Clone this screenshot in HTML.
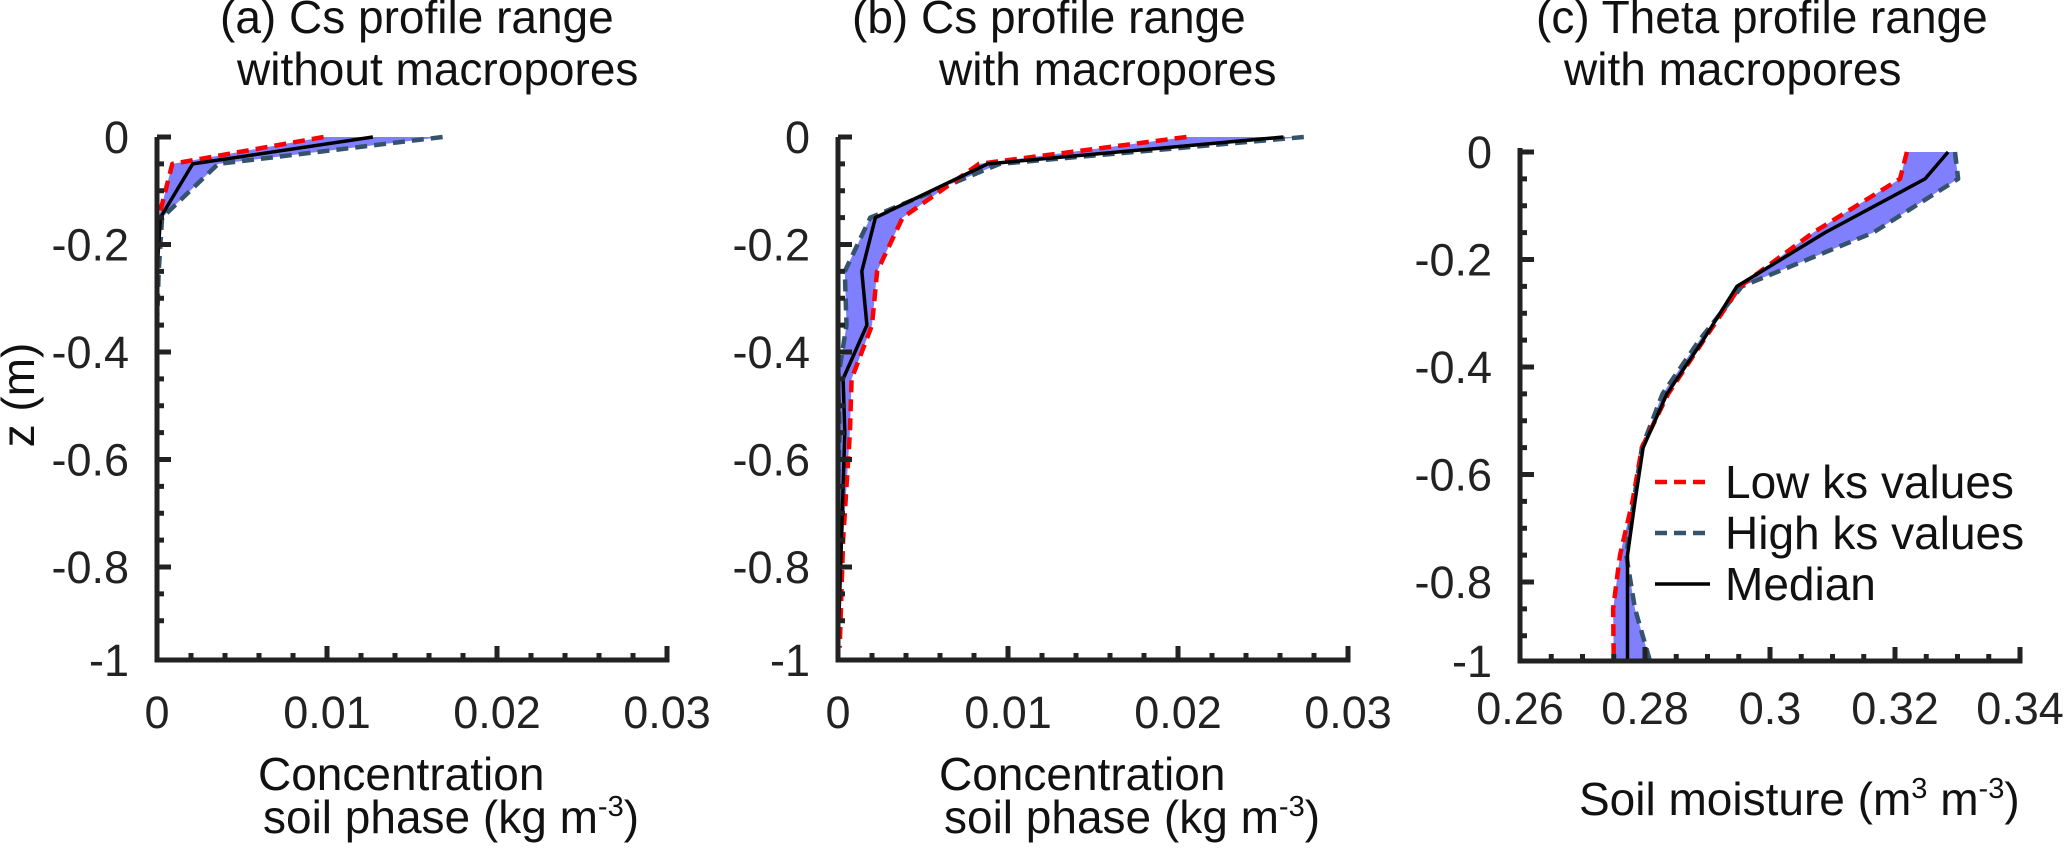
<!DOCTYPE html>
<html><head><meta charset="utf-8">
<style>
html,body{margin:0;padding:0;background:#fff;}
svg{display:block;font-family:"Liberation Sans",Arial,sans-serif;}
</style></head>
<body>
<svg id="chart" width="2067" height="852" viewBox="0 0 2067 852" xmlns="http://www.w3.org/2000/svg">
<g fill="#111" font-size="46">
<text x="220" y="33">(a) Cs profile range</text>
<text x="237" y="85">without macropores</text>
<text x="852" y="33">(b) Cs profile range</text>
<text x="939" y="85">with macropores</text>
<text x="1536" y="33">(c) Theta profile range</text>
<text x="1564" y="85">with macropores</text>
<text transform="translate(34,395) rotate(-90)" text-anchor="middle">z (m)</text>
<text x="258" y="790">Concentration</text>
<text x="263" y="833">soil phase (kg m<tspan font-size="29" dy="-17">-3</tspan><tspan dy="17">)</tspan></text>
<text x="939" y="790">Concentration</text>
<text x="944" y="833">soil phase (kg m<tspan font-size="29" dy="-17">-3</tspan><tspan dy="17">)</tspan></text>
<text x="1579" y="815">Soil moisture (m<tspan font-size="29" dy="-17">3</tspan><tspan dy="17"> m</tspan><tspan font-size="29" dy="-17">-3</tspan><tspan dy="17">)</tspan></text>
</g>
<g id="plots"></g>
<g font-size="46" fill="#111">
<line x1="1655" y1="482" x2="1705" y2="482" stroke="#ff0000" stroke-width="4.5" stroke-dasharray="12,7"/>
<text x="1725" y="498">Low ks values</text>
<line x1="1655" y1="533" x2="1705" y2="533" stroke="#35536b" stroke-width="4.5" stroke-dasharray="12,7"/>
<text x="1725" y="549">High ks values</text>
<line x1="1655" y1="584" x2="1710" y2="584" stroke="#000" stroke-width="3.5"/>
<text x="1725" y="600">Median</text>
</g>
</svg>
<script>
const depths = [0,-0.05,-0.15,-0.25,-0.35,-0.45,-0.55,-0.65,-0.75,-0.85,-0.95];
const aLow  = [0.0098,0.0009,0.0001,0,0,0,0,0,0,0,0];
const aHigh = [0.0168,0.0036,0.0003,0.0001,0,0,0,0,0,0,0];
const aMed  = [0.0127,0.0021,0.0002,0,0,0,0,0,0,0,0];
const bLow  = [0.0205,0.0083,0.0038,0.0023,0.0020,0.0008,0.0007,0.0005,0.0003,0.0002,0.0001];
const bHigh = [0.0274,0.0095,0.0019,0.0004,0.0005,0,0.0001,0,0,0,0];
const bMed  = [0.0262,0.0088,0.0022,0.0014,0.0017,0.0003,0.0004,0.0003,0.0002,0.0001,0];
const cLow  = [0.3219,0.3208,0.3069,0.2952,0.2894,0.2837,0.2795,0.2780,0.2760,0.2749,0.2750];
const cHigh = [0.3296,0.3301,0.3165,0.2955,0.2887,0.2828,0.2795,0.2782,0.2770,0.2784,0.2808];
const cMed  = [0.3285,0.3248,0.3088,0.2947,0.2893,0.2835,0.2797,0.2784,0.2772,0.2772,0.2772];
const abXTicks = [0,0.01,0.02,0.03];
const abXTickLabels = ["0","0.01","0.02","0.03"];
const cXTicks = [0.26,0.28,0.30,0.32,0.34];
const cXTickLabels = ["0.26","0.28","0.3","0.32","0.34"];
const yTicks = [0,-0.2,-0.4,-0.6,-0.8];
const yTickLabels = ["0","-0.2","-0.4","-0.6","-0.8"];

const NS = "http://www.w3.org/2000/svg";
const root = document.getElementById('plots');
function mk(tag, attrs, parent){
  const e = document.createElementNS(NS, tag);
  for (const k in attrs) e.setAttribute(k, attrs[k]);
  (parent||root).appendChild(e);
  return e;
}
function panel(p){
  const xs = v => p.x0 + (v - p.xmin)/(p.xmax - p.xmin)*(p.x1 - p.x0);
  const ys = v => Math.min(p.yBottom, p.y0 - v/0.2*p.yStep);
  const g = mk('g', {});
  
  
  let pts = [];
  for (let i=0;i<depths.length;i++) pts.push(xs(p.low[i])+','+ys(depths[i]));
  for (let i=depths.length-1;i>=0;i--) pts.push(xs(p.high[i])+','+ys(depths[i]));
  const band = mk('polygon', {points: pts.join(' '), fill:'#8080ff', stroke:'none'}, g);
  
  
  function line(arr, color, w, dash, name){
    const d = arr.map((v,i)=>xs(v)+','+ys(depths[i])).join(' ');
    const l = mk('polyline', {points:d, fill:'none', stroke:color, 'stroke-width':w, 'stroke-linejoin':'round'}, g);
    if (dash) l.setAttribute('stroke-dasharray', dash);
    
    
  }
  line(p.high, '#35536b', 4.5, '12,7', 'high-ks-line-' + p.id);
  line(p.low, '#ff0000', 4.5, '12,7', 'low-ks-line-' + p.id);
  line(p.med, '#000000', 3.5, null, 'median-line-' + p.id);
  const ax = mk('g', {stroke:'#222', 'stroke-width':5, fill:'none'}, g);
  
  
  mk('line', {x1:p.x0, y1:p.yTop, x2:p.x0, y2:p.yBottom+2.5}, ax);
  mk('line', {x1:p.x0-2.5, y1:p.yBottom, x2:p.x1+2.5, y2:p.yBottom}, ax);
  for (let v=0; v>=-0.95; v-=0.05){
    const y = ys(v);
    if (y >= p.yBottom-3) continue;
    const major = Math.abs(Math.round(v*5)-v*5) < 1e-6;
    mk('line', {x1:p.x0, y1:y, x2:p.x0+(major?14:7), y2:y, 'stroke-width':5}, ax);
  }
  const step = p.minorStep;
  const n = Math.round((p.xmax-p.xmin)/step);
  for (let i=1;i<=n;i++){
    const v = p.xmin + i*step;
    const major = i % p.minorPerMajor === 0;
    const x = xs(v);
    mk('line', {x1:x, y1:p.yBottom, x2:x, y2:p.yBottom-(major?14:7), 'stroke-width':5}, ax);
  }
  const tl = mk('g', {fill:'#222', 'font-size':45}, g);
  
  
  p.xTicks.forEach((v,i)=>{
    const t = mk('text', {x:xs(v), y:p.xLabelY, 'text-anchor':'middle'}, tl);
    t.textContent = p.xLabels[i];
  });
  yTicks.forEach((v,i)=>{
    const t = mk('text', {x:p.x0-28, y:ys(v)+16, 'text-anchor':'end'}, tl);
    t.textContent = yTickLabels[i];
  });
  const tb = mk('text', {x:p.x0-28, y:p.yBottom+16, 'text-anchor':'end'}, tl);
  tb.textContent = "-1";
}
panel({id:'a', x0:157, x1:667, xmin:0, xmax:0.03, y0:137, yStep:107.5, yTop:137, yBottom:660,
  low:aLow, high:aHigh, med:aMed, xTicks:abXTicks, xLabels:abXTickLabels, minorStep:0.002, minorPerMajor:5, xLabelY:728});
panel({id:'b', x0:838, x1:1348, xmin:0, xmax:0.03, y0:137, yStep:107.5, yTop:137, yBottom:660,
  low:bLow, high:bHigh, med:bMed, xTicks:abXTicks, xLabels:abXTickLabels, minorStep:0.002, minorPerMajor:5, xLabelY:728});
panel({id:'c', x0:1520, x1:2020, xmin:0.26, xmax:0.34, y0:152, yStep:107.5, yTop:148, yBottom:661,
  low:cLow, high:cHigh, med:cMed, xTicks:cXTicks, xLabels:cXTickLabels, minorStep:0.005, minorPerMajor:4, xLabelY:724});
</script>
</body></html>
